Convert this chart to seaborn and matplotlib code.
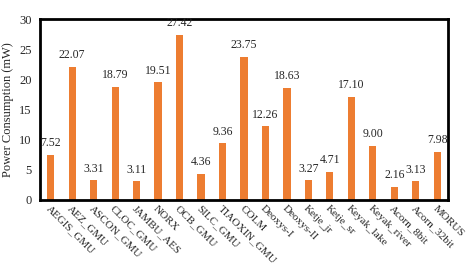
import pandas as pd
import matplotlib.pyplot as plt
import seaborn as sns

# Power consumption per design
designs = ["AEGIS_GMU", "AEZ_GMU", "ASCON_GMU", "CLOC_GMU", "JAMBU_AES", "NORX",
           "OCB_GMU", "SILC_GMU", "TIAOXIN_GMU", "COLM", "Deoxys-I", "Deoxys-II",
           "Ketje_jr", "Ketje_sr", "Keyak_lake", "Keyak_river", "Acorn_8bit",
           "Acorn_32bit", "MORUS"]
power = [7.52, 22.07, 3.31, 18.79, 3.11, 19.51, 27.42, 4.36, 9.36, 23.75,
         12.26, 18.63, 3.27, 4.71, 17.10, 9.00, 2.16, 3.13, 7.98]

df = pd.DataFrame({"design": designs, "power": power})

sns.set_style("white")
plt.rcParams["font.family"] = "serif"
plt.rcParams["font.serif"] = ["Liberation Serif", "DejaVu Serif"]

fig = plt.figure(figsize=(4.71, 2.68), dpi=100)
ax = fig.add_axes([0.085, 0.254, 0.866, 0.675])
sns.barplot(data=df, x="design", y="power", color="#ED7D31", width=0.34,
            saturation=1, linewidth=0, ax=ax)

for i, v in enumerate(power):
    ax.text(i, v + 0.9, f"{v:.2f}", ha="center", va="bottom", fontsize=8.5)

ax.set_ylim(0, 30)
ax.set_xlim(-0.5, len(designs) - 0.5)
ax.set_yticks(range(0, 31, 5))
ax.set_xlabel("")
ax.set_ylabel("Power Consumption (mW)", fontsize=9)
ax.tick_params(axis="y", labelsize=9, length=0, pad=6)
ax.tick_params(axis="x", labelsize=8, length=0, pad=3)
ax.set_xticks(range(len(designs)))
ax.set_xticklabels(designs, rotation=-45, ha="left", rotation_mode="anchor")
for s in ax.spines.values():
    s.set_visible(True)
    s.set_color("black")
    s.set_linewidth(2)

fig.savefig("out.png", dpi=100)
